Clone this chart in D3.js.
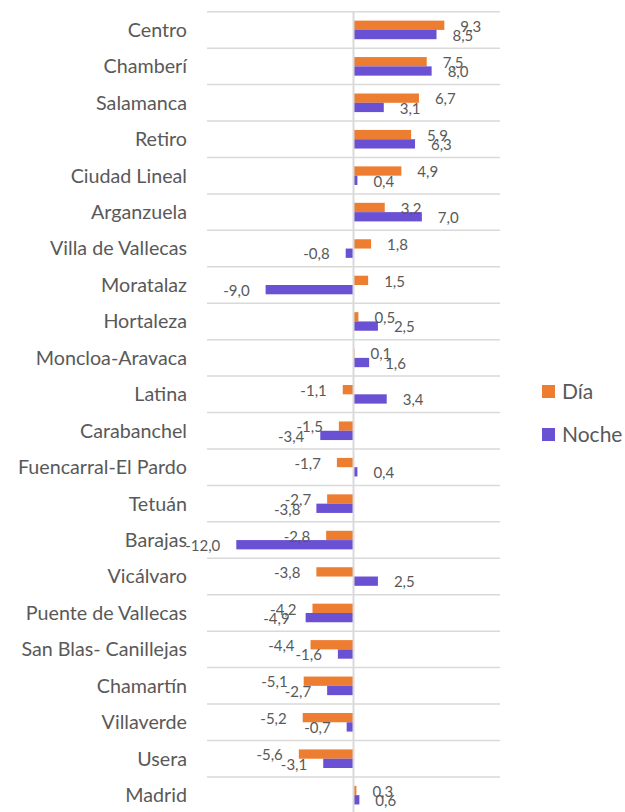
<!DOCTYPE html>
<html>
<head>
<meta charset="utf-8">
<script src="https://cdn.jsdelivr.net/npm/d3@7"></script>
<style>
  body { margin: 0; background: #fff; }
  text { font-family: Lato, "Open Sans", sans-serif; fill: #595959; }
</style>
</head>
<body>
<svg id="chart" width="625" height="812"></svg>
<script>
var districts = ["Centro", "Chamberí", "Salamanca", "Retiro", "Ciudad Lineal", "Arganzuela",
  "Villa de Vallecas", "Moratalaz", "Hortaleza", "Moncloa-Aravaca", "Latina", "Carabanchel",
  "Fuencarral-El Pardo", "Tetuán", "Barajas", "Vicálvaro", "Puente de Vallecas",
  "San Blas- Canillejas", "Chamartín", "Villaverde", "Usera", "Madrid"];
var dia = [9.3, 7.5, 6.7, 5.9, 4.9, 3.2, 1.8, 1.5, 0.5, 0.1, -1.1, -1.5, -1.7, -2.7, -2.8,
  -3.8, -4.2, -4.4, -5.1, -5.2, -5.6, 0.3];
var noche = [8.5, 8.0, 3.1, 6.3, 0.4, 7.0, -0.8, -9.0, 2.5, 1.6, 3.4, -3.4, 0.4, -3.8, -12.0,
  2.5, -4.9, -1.6, -2.7, -0.7, -3.1, 0.6];
var seriesNames = ["Día", "Noche"];
var colors = ["#ED7D31", "#6A50D3"];

var svg = d3.select("#chart");
var plotTop = 11.7, rowH = 36.44;

var x = d3.scaleLinear().domain([-15, 15]).range([207, 500]);
var y = d3.scaleBand()
  .domain(districts)
  .range([plotTop, plotTop + districts.length * rowH])
  .paddingInner(0.49)
  .paddingOuter(0.245);
var ySub = d3.scaleBand().domain(seriesNames).range([0, y.bandwidth()]);

var fmt = function(v) { return d3.format(".1f")(v).replace(".", ",").replace("−", "-"); };

// gridlines between categories
var edges = districts.map(function(d, i) { return plotTop + i * rowH; });
svg.append("g").selectAll("line")
  .data(edges)
  .enter().append("line")
  .attr("x1", x.range()[0]).attr("x2", x.range()[1])
  .attr("y1", function(d) { return d; }).attr("y2", function(d) { return d; })
  .attr("stroke", "#D9D9D9").attr("stroke-width", 1.5);

var rows = districts.map(function(d, i) {
  return { name: d, vals: [dia[i], noche[i]] };
});

// bars
var groups = svg.append("g").selectAll("g")
  .data(rows)
  .enter().append("g")
  .attr("transform", function(d) { return "translate(0," + y(d.name) + ")"; });

groups.selectAll("rect")
  .data(function(d) { return d.vals.map(function(v, k) { return { k: k, v: v }; }); })
  .enter().append("rect")
  .attr("x", function(d) { return x(Math.min(0, d.v)); })
  .attr("y", function(d) { return ySub(seriesNames[d.k]); })
  .attr("width", function(d) { return Math.abs(x(d.v) - x(0)); })
  .attr("height", ySub.bandwidth())
  .attr("fill", function(d) { return colors[d.k]; });

// zero axis
svg.append("line")
  .attr("x1", x(0)).attr("x2", x(0))
  .attr("y1", plotTop).attr("y2", 812)
  .attr("stroke", "#D9D9D9").attr("stroke-width", 2);

// data labels
groups.selectAll("text.val")
  .data(function(d) { return d.vals.map(function(v, k) { return { k: k, v: v }; }); })
  .enter().append("text")
  .attr("class", "val")
  .attr("x", function(d) { return d.v >= 0 ? x(d.v) + 16 : x(d.v) - 16; })
  .attr("y", function(d) { return ySub(seriesNames[d.k]) + ySub.bandwidth() / 2 + 1; })
  .attr("dy", "0.35em")
  .attr("text-anchor", function(d) { return d.v >= 0 ? "start" : "end"; })
  .attr("font-size", 15)
  .text(function(d) { return fmt(d.v); });

// category labels
svg.append("g").selectAll("text")
  .data(districts)
  .enter().append("text")
  .attr("x", 187)
  .attr("y", function(d) { return y(d) + y.bandwidth() / 2; })
  .attr("dy", "0.35em")
  .attr("text-anchor", "end")
  .attr("font-size", 19.7)
  .text(function(d) { return d; });

// legend
var legend = svg.append("g").selectAll("g")
  .data(seriesNames)
  .enter().append("g")
  .attr("transform", function(d, i) { return "translate(542," + (385 + i * 43) + ")"; });
legend.append("rect")
  .attr("width", 13).attr("height", 13)
  .attr("fill", function(d, i) { return colors[i]; });
legend.append("text")
  .attr("x", 20).attr("y", 6.5).attr("dy", "0.35em")
  .attr("font-size", 21)
  .text(function(d) { return d; });
</script>
</body>
</html>
